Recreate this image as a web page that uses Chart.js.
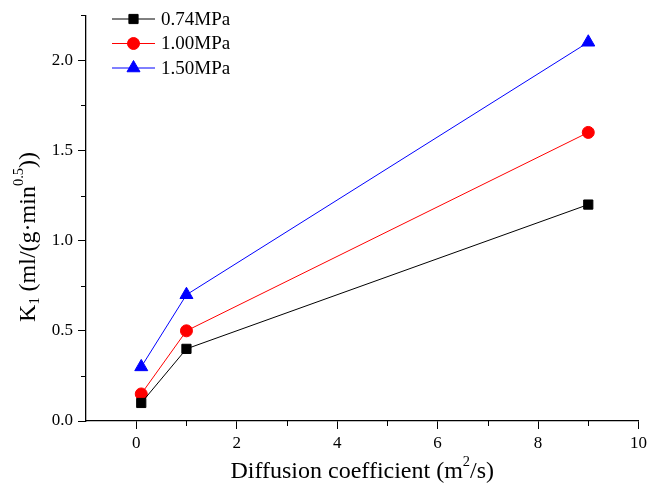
<!DOCTYPE html>
<html>
<head>
<meta charset="utf-8">
<script src="https://cdn.jsdelivr.net/npm/chart.js@4/dist/chart.umd.min.js"></script>
<style>
html,body{margin:0;padding:0;background:#fff;}
#wrap{width:651px;height:492px;}
</style>
</head>
<body>
<div id="wrap"><canvas id="c" width="651" height="492"></canvas></div>
<script>
const diffusion = [0.1, 1, 9];
const k074 = [0.1, 0.4, 1.2];
const k100 = [0.15, 0.5, 1.6];
const k150 = [0.3, 0.7, 2.1];
const seriesLabels = ['0.74MPa', '1.00MPa', '1.50MPa'];
const xTitleParts = [['Diffusion coefficient (m', 0], ['2', -1], ['/s)', 0]];
const yTitleParts = [['K', 0], ['1', 1], [' (ml/(g\u00b7min', 0], ['0.5', -1], ['))', 0]];

const FONT = '"Liberation Serif", "Times New Roman", serif';

function pts(ys){ return diffusion.map((x,i)=>({x:x, y:ys[i]})); }

function drawRich(ctx, parts, size){
  let total = 0;
  const widths = parts.map(p=>{
    const s = p[1] ? size*0.6 : size;
    ctx.font = s + 'px ' + FONT;
    const w = ctx.measureText(p[0]).width;
    total += w;
    return w;
  });
  let x = -total/2;
  parts.forEach((p,i)=>{
    const s = p[1] ? size*0.6 : size;
    ctx.font = s + 'px ' + FONT;
    let dy = 0;
    if (p[1] === -1) dy = -size*0.42;
    if (p[1] === 1) dy = size*0.24;
    ctx.fillText(p[0], x, dy);
    x += widths[i];
  });
}

const isMajorX = v => Math.round(v) % 2 === 0;
const isMajorY = v => Math.abs(v*2 - Math.round(v*2)) < 1e-6;

const titlePlugin = {
  id: 'richTitles',
  afterDraw(chart){
    const ctx = chart.ctx;
    const ca = chart.chartArea;
    ctx.save();
    ctx.fillStyle = '#000';
    ctx.textBaseline = 'middle';
    ctx.textAlign = 'left';
    ctx.translate((ca.left+ca.right)/2, 472);
    drawRich(ctx, xTitleParts, 24);
    ctx.restore();
    ctx.save();
    ctx.fillStyle = '#000';
    ctx.textBaseline = 'middle';
    ctx.textAlign = 'left';
    ctx.translate(29, 237);
    ctx.rotate(-Math.PI/2);
    drawRich(ctx, yTitleParts, 24);
    ctx.restore();
  }
};

const minorTickPlugin = {
  id: 'minorTicks',
  afterDraw(chart){
    const ctx = chart.ctx;
    const xs = chart.scales.x, ys = chart.scales.y;
    ctx.save();
    ctx.strokeStyle = '#000';
    ctx.lineWidth = 1;
    ctx.beginPath();
    xs.ticks.forEach(t=>{
      if (!isMajorX(t.value) && t.value > xs.min) {
        const p = Math.round(xs.getPixelForValue(t.value)) + 0.5;
        ctx.moveTo(p, xs.top); ctx.lineTo(p, xs.top + 5);
      }
    });
    ys.ticks.forEach(t=>{
      if (!isMajorY(t.value)) {
        const p = Math.round(ys.getPixelForValue(t.value)) + 0.5;
        ctx.moveTo(ys.right, p); ctx.lineTo(ys.right - 5, p);
      }
    });
    ctx.stroke();
    ctx.restore();
  }
};

const legendPlugin = {
  id: 'lineLegend',
  afterDraw(chart){
    const ctx = chart.ctx;
    const ca = chart.chartArea;
    const x0 = ca.left + 26, x1 = ca.left + 69, xm = (x0+x1)/2;
    chart.data.datasets.forEach((ds, i)=>{
      const y = 19 + i*24.5;
      ctx.save();
      ctx.strokeStyle = ds.borderColor;
      ctx.lineWidth = 1;
      ctx.beginPath(); ctx.moveTo(x0, y); ctx.lineTo(x1, y); ctx.stroke();
      ctx.fillStyle = ds.pointBackgroundColor;
      ctx.strokeStyle = ds.pointBorderColor;
      ctx.lineWidth = 1;
      Chart.helpers.drawPoint(ctx, {pointStyle: ds.pointStyle, rotation: 0, radius: ds.pointRadius, borderWidth: 1}, xm, y);
      ctx.restore();
      ctx.save();
      ctx.fillStyle = '#000';
      ctx.font = '19px ' + FONT;
      ctx.textBaseline = 'middle';
      ctx.textAlign = 'left';
      ctx.fillText(ds.label, x1 + 6, y + 1);
      ctx.restore();
    });
  }
};

const mk = (label, data, color, style, r) => ({
  label, data: pts(data), borderColor: color, backgroundColor: color,
  pointBackgroundColor: color, pointBorderColor: color, pointStyle: style,
  pointRadius: r, pointHoverRadius: r, borderWidth: 1, pointBorderWidth: 1, tension: 0
});

const datasets = [
  mk(seriesLabels[0], k074, '#000000', 'rect', 6.5),
  mk(seriesLabels[1], k100, '#ff0000', 'circle', 6),
  mk(seriesLabels[2], k150, '#0000ff', 'triangle', 7.5)
];

new Chart(document.getElementById('c'), {
  type: 'line',
  data: { datasets },
  options: {
    responsive: false,
    animation: false,
    devicePixelRatio: 1,
    layout: { autoPadding: false, padding: { left: 0, right: 11, top: 14, bottom: 0 } },
    plugins: { legend: { display: false }, tooltip: { enabled: false } },
    scales: {
      x: {
        type: 'linear', min: -1, max: 10,
        afterFit: s => { s.height = 71; },
        border: { display: true, color: '#000', width: 1.3 },
        grid: { display: true, drawOnChartArea: false, drawTicks: true, tickLength: 8, tickWidth: 1,
          tickColor: c => (c.tick && isMajorX(c.tick.value)) ? '#000' : 'rgba(0,0,0,0)' },
        ticks: { stepSize: 1, color: '#000', font: { family: FONT, size: 17 }, padding: 4, maxRotation: 0, autoSkip: false,
          callback: v => (isMajorX(v) && v >= 0) ? String(v) : '' }
      },
      y: {
        type: 'linear', min: 0, max: 2.25,
        afterFit: s => { s.width = 86; },
        border: { display: true, color: '#000', width: 1.3 },
        grid: { display: true, drawOnChartArea: false, drawTicks: true, tickLength: 8, tickWidth: 1,
          tickColor: c => (c.tick && isMajorY(c.tick.value)) ? '#000' : 'rgba(0,0,0,0)' },
        ticks: { stepSize: 0.25, color: '#000', font: { family: FONT, size: 17 }, padding: 5, autoSkip: false,
          callback: v => isMajorY(v) ? v.toFixed(1) : '' }
      }
    }
  },
  plugins: [titlePlugin, minorTickPlugin, legendPlugin]
});
</script>
</body>
</html>
